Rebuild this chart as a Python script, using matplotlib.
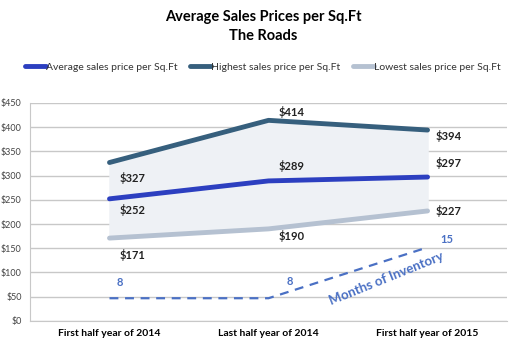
import matplotlib.pyplot as plt
import numpy as np

plt.rcParams['font.family'] = ['Lato', 'DejaVu Sans']

periods = ['First half year of 2014', 'Last half year of 2014', 'First half year of 2015']
avg_price = [252, 289, 297]
high_price = [327, 414, 394]
low_price = [171, 190, 227]
months_inv = [8, 8, 15]
yticks = [0, 50, 100, 150, 200, 250, 300, 350, 400, 450]

c_avg = '#2c3fc0'
c_high = '#365f7d'
c_low = '#b5c1d1'
c_inv = '#4a70c4'

fig = plt.figure(figsize=(5.26, 3.5), dpi=100)
ax = fig.add_axes([0.057, 0.083, 0.907, 0.623])
x = np.arange(len(periods))

ax.fill_between(x, low_price, high_price, color='#eef1f5', zorder=1)
ax.plot(x, high_price, color=c_high, lw=3.5, solid_capstyle='round', zorder=3, label='Highest sales price per Sq.Ft')
ax.plot(x, avg_price, color=c_avg, lw=3.5, solid_capstyle='round', zorder=3, label='Average sales price per Sq.Ft')
ax.plot(x, low_price, color=c_low, lw=3.5, solid_capstyle='round', zorder=3, label='Lowest sales price per Sq.Ft')

ax.set_xlim(-0.5, 2.5)
ax.set_ylim(0, 450)
ax.set_yticks(yticks)
ax.set_yticklabels(['$%d' % v for v in yticks], fontsize=6.5, color='#444444')
ax.set_xticks(x)
ax.set_xticklabels(periods, fontsize=7.5, fontweight='bold')
ax.tick_params(length=0, pad=6)
ax.grid(axis='y', color='#c8c8c8', lw=1)
ax.set_axisbelow(True)
for s in ['top', 'right']:
    ax.spines[s].set_visible(False)
for s in ['left', 'bottom']:
    ax.spines[s].set_color('#c8c8c8')

# value labels (offsets in points)
offs_high = [(7, -11), (7, 6), (6, -4)]
offs_avg = [(7, -8), (7, 11), (6, 10)]
offs_low = [(7, -12), (7, -5), (6, 0)]
for series, offs in [(high_price, offs_high), (avg_price, offs_avg), (low_price, offs_low)]:
    for i, v in enumerate(series):
        ax.annotate('$%d' % v, (x[i], v), xytext=offs[i], textcoords='offset points',
                    fontsize=8, fontweight='bold', color='#222222', ha='left', va='center')

# months of inventory on hidden secondary axis
ax2 = ax.twinx()
ax2.set_ylim(4.87, 34.9)
ax2.plot(x, months_inv, color=c_inv, lw=1.6, ls=(0, (4, 3)))
ax2.axis('off')
offs_inv = [(5, 11), (13, 12), (9, 6)]
for i, v in enumerate(months_inv):
    ax2.annotate(str(v), (x[i], v), xytext=offs_inv[i], textcoords='offset points',
                 fontsize=8, fontweight='bold', color=c_inv, ha='left', va='center')
ax2.text(1.74, 10.7, 'Months of Inventory', rotation=22, fontsize=9.5, fontweight='bold',
         color=c_inv, ha='center', va='center')

fig.text(0.5, 0.95, 'Average Sales Prices per Sq.Ft', ha='center', va='center',
         fontsize=10.5, fontweight='bold')
fig.text(0.5, 0.898, 'The Roads', ha='center', va='center', fontsize=10.5, fontweight='bold')

h, l = ax.get_legend_handles_labels()
order = [1, 0, 2]
fig.legend([h[i] for i in order], [l[i] for i in order], loc='center', bbox_to_anchor=(0.5, 0.808),
           ncol=3, frameon=False, fontsize=7.5, handlelength=2.0, handletextpad=0.0,
           columnspacing=1.2, labelcolor='#333333')

fig.savefig('out.png', dpi=100)
